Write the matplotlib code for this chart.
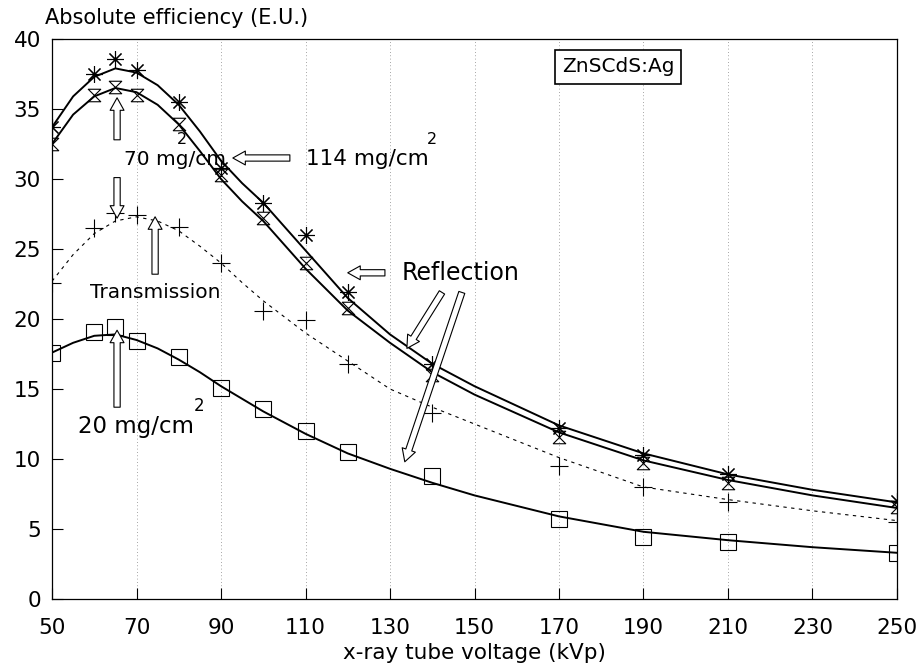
import numpy as np
import matplotlib
matplotlib.use("Agg")
import matplotlib.pyplot as plt
from matplotlib.path import Path

plt.rcParams['font.family'] = ['DejaVu Sans']

# ---- data ----
kvp_pts = [50, 60, 65, 70, 80, 90, 100, 110, 120, 140, 170, 190, 210, 250]
refl_114 = [33.7, 37.5, 38.6, 37.8, 35.5, 30.8, 28.3, 26.0, 21.9, 16.8, 12.2, 10.3, 8.9, 7.0]
refl_70 = [32.5, 36.0, 36.6, 36.0, 33.9, 30.3, 27.2, 24.0, 20.8, 16.0, 11.6, 9.7, 8.3, 6.6]
trans_70 = [22.6, 26.5, 27.6, 27.4, 26.6, 24.0, 20.6, 19.9, 16.8, 13.3, 9.5, 8.0, 6.9, 5.5]
refl_20 = [17.6, 19.1, 19.4, 18.4, 17.3, 15.1, 13.6, 12.0, 10.5, 8.8, 5.7, 4.4, 4.1, 3.3]

kvp_fit = [50, 55, 60, 65, 70, 75, 80, 85, 90, 95, 100, 110, 120, 130, 140, 150, 170, 190, 210, 230, 250]
fit_114 = [33.7, 35.9, 37.3, 37.9, 37.6, 36.7, 35.3, 33.4, 31.3, 29.7, 28.3, 24.9, 21.5, 18.9, 16.8, 15.2, 12.4, 10.4, 8.9, 7.8, 6.9]
fit_70 = [32.5, 34.6, 35.9, 36.5, 36.2, 35.3, 33.9, 32.0, 30.0, 28.4, 27.0, 23.6, 20.6, 18.3, 16.2, 14.6, 11.9, 9.9, 8.5, 7.4, 6.5]
fit_trans = [22.7, 24.6, 26.1, 27.0, 27.3, 27.0, 26.3, 25.2, 24.0, 22.6, 21.3, 19.0, 17.0, 15.0, 13.7, 12.5, 10.1, 8.0, 7.1, 6.3, 5.6]
fit_20 = [17.6, 18.3, 18.8, 18.9, 18.5, 17.9, 17.1, 16.2, 15.2, 14.3, 13.4, 11.8, 10.4, 9.3, 8.3, 7.4, 5.9, 4.8, 4.2, 3.7, 3.3]

x_ticks = [50, 70, 90, 110, 130, 150, 170, 190, 210, 230, 250]
y_ticks = [0, 5, 10, 15, 20, 25, 30, 35, 40]

# ---- figure ----
fig = plt.figure(figsize=(9.2, 6.69), dpi=100)
ax = fig.add_axes([52/920, 1-599/669, (897-52)/920, (599-39)/669])

# hourglass marker
hg = Path([(-1, 1), (1, 1), (-1, -1), (1, -1), (-1, 1)],
          [Path.MOVETO, Path.LINETO, Path.LINETO, Path.LINETO, Path.CLOSEPOLY])

ax.plot(kvp_fit, fit_114, color='black', lw=1.4)
ax.plot(kvp_fit, fit_70, color='black', lw=1.4)
ax.plot(kvp_fit, fit_trans, color='black', lw=0.8, ls=(0, (3, 4)))
ax.plot(kvp_fit, fit_20, color='black', lw=1.4)

ax.plot(kvp_pts, refl_70, ls='none', marker=hg, ms=9, mfc='none', mec='black', mew=0.8)
ax.plot(kvp_pts, refl_114, ls='none', marker=(8, 2, 0), ms=12, mec='black', mew=0.8)
ax.plot(kvp_pts, trans_70, ls='none', marker='+', ms=13, mec='black', mew=0.8)
ax.plot(kvp_pts, refl_20, ls='none', marker='s', ms=11, mfc='none', mec='black', mew=0.8)

ax.set_xlim(50, 250)
ax.set_ylim(0, 40)
ax.set_xticks(x_ticks)
ax.set_yticks(y_ticks)
ax.tick_params(direction='in', length=8, width=0.8, labelsize=15.5)
ax.tick_params(axis='x', pad=14)
ax.tick_params(axis='y', pad=8)
for s in ax.spines.values():
    s.set_linewidth(0.9)
for xv in x_ticks[1:-1]:
    ax.axvline(xv, color='#888888', lw=0.6, ls=(0, (1, 3)), zorder=0)

ax.set_xlabel('x-ray tube voltage (kVp)', fontsize=15.5, labelpad=3)
fig.text(45/920, 1-18/669, 'Absolute efficiency (E.U.)', fontsize=15, va='center', ha='left')

# ---- annotations ----
arw = dict(arrowstyle='simple,head_length=0.9,head_width=1.0,tail_width=0.45',
           fc='white', ec='black', lw=0.8, shrinkA=0, shrinkB=0)

# 70 mg/cm^2
ax.text(67.0, 31.4, '70 mg/cm', fontsize=14.5, va='center', ha='left')
ax.text(79.5, 32.8, '2', fontsize=11.5, va='center', ha='left')
ax.annotate('', xy=(65.4, 35.8), xytext=(65.4, 32.8), arrowprops=arw)
ax.annotate('', xy=(65.4, 27.2), xytext=(65.4, 30.1), arrowprops=arw)

# Transmission
ax.text(74.4, 21.9, 'Transmission', fontsize=14.5, va='center', ha='center')
ax.annotate('', xy=(74.4, 27.3), xytext=(74.4, 23.2), arrowprops=arw)

# 20 mg/cm^2
ax.text(69.8, 12.3, '20 mg/cm', fontsize=16.5, va='center', ha='center')
ax.text(83.5, 13.8, '2', fontsize=12, va='center', ha='left')
ax.annotate('', xy=(65.4, 19.2), xytext=(65.4, 13.7), arrowprops=arw)

# 114 mg/cm^2
ax.text(110.0, 31.4, '114 mg/cm', fontsize=15.5, va='center', ha='left')
ax.text(138.8, 32.8, '2', fontsize=11.5, va='center', ha='left')
ax.annotate('', xy=(92.8, 31.5), xytext=(106.3, 31.5), arrowprops=arw)

# Reflection
ax.text(132.8, 23.3, 'Reflection', fontsize=17, va='center', ha='left')
ax.annotate('', xy=(120.0, 23.3), xytext=(128.8, 23.3), arrowprops=arw)
ax.annotate('', xy=(134.0, 17.9), xytext=(142.3, 21.9), arrowprops=arw)
ax.annotate('', xy=(133.5, 9.8), xytext=(147.0, 21.9), arrowprops=arw)

# phosphor box
ax.text(184.0, 38.0, 'ZnSCdS:Ag', fontsize=14.5, va='center', ha='center',
        bbox=dict(boxstyle='square,pad=0.35', fc='white', ec='black', lw=1.2))

fig.savefig('out.png', dpi=100)
